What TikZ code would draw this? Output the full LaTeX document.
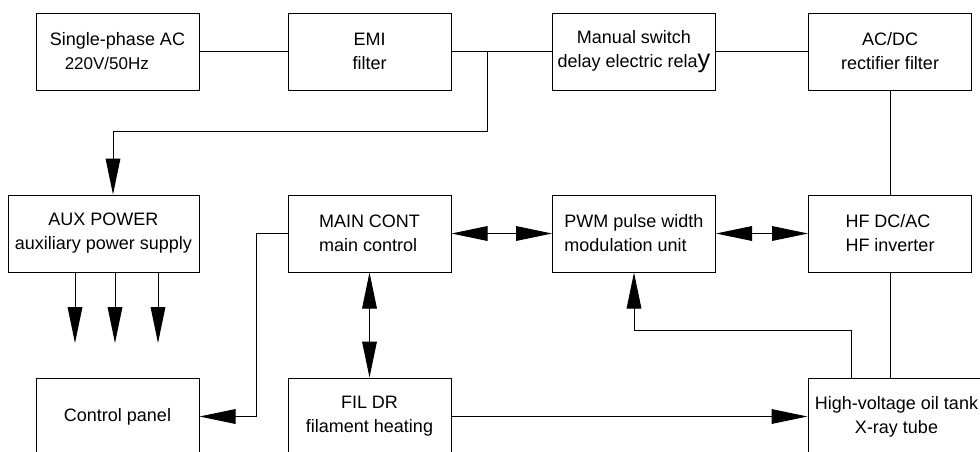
\documentclass[tikz,border=0pt]{standalone}
\usepackage{fontspec}
\setmainfont{Liberation Sans}
\usetikzlibrary{arrows.meta}

\tikzstyle{block}=[rectangle,draw=black,line width=0.75pt,align=center,inner sep=0pt,font=\fontsize{13.5}{18}\selectfont,minimum height=57.75pt,minimum width=122.25pt]
\tikzstyle{link}=[line width=0.75pt]

\begin{document}
\begin{tikzpicture}[x=0.75pt,y=-0.75pt,>={Triangle[length=27pt,width=11pt]}]
	\useasboundingbox (0,0) rectangle (980,451);
	\clip (0,0) rectangle (980,451);

	% top row
	\node[block] (ac) at (117.5,51.5) {Single-phase AC\\{\fontsize{12.75}{18}\selectfont 220V/50Hz}\hspace*{16pt}};
	\node[block] (emi) at (369.5,51.5) {EMI\\filter};
	\node[block] (relay) at (634,51.5) {Manual switch\\delay electric rela{\fontsize{19}{18}\selectfont y}};
	\node[block] (acdc) at (890,51.5) {AC/DC\\rectifier filter};

	% middle row
	\node[block,minimum width=143.25pt] (aux) at (103.5,233.5) {AUX POWER\\auxiliary power supply};
	\node[block,align=left] (main) at (369.5,233.5) {MAIN CONT\\main control};
	\node[block,align=left] (pwm) at (634,233.5) {PWM pulse width\\modulation unit};
	\node[block,align=left] (hf) at (890,233.5) {HF DC/AC\\HF inverter};

	% bottom row
	\node[block] (panel) at (117.5,416.5) {Control panel};
	\node[block] (fil) at (369.5,416.5) {FIL DR\\filament heating};
	\node[block,minimum width=132.75pt] (hv) at (896.5,416.5) {High-voltage oil tank\\X-ray tube};

	% power path
	\draw[link] (ac) -- (emi);
	\draw[link] (emi) -- (relay);
	\draw[link] (relay) -- (acdc);
	\draw[link] (acdc) -- (hf);
	\draw[link] (hf) -- (hf.south |- hv.north);

	% auxiliary supply
	\coordinate (split) at (487,51.5);
	\coordinate (bus) at (113,131);
	\draw[link] (split) |- (bus);
	\draw[link,->] (bus) -- (bus |- aux.north);
	\foreach \x [count=\i] in {75,115,158}
	{
		\coordinate (out\i) at (\x,343);
		\draw[link,->] (out\i |- aux.south) -- (out\i);
	}

	% control
	\draw[link,->] (main.west) -- ++(-31,0) |- (panel.east);
	\draw[link,<->] (main) -- (fil);
	\draw[link,<->] (main) -- (pwm);
	\draw[link,<->] (pwm) -- (hf);
	\draw[link,->] (fil) -- (hv);

	% feedback
	\coordinate (fb) at (851,330);
	\draw[link,->] (fb |- hv.north) -- (fb) -| (pwm.south);
\end{tikzpicture}
\end{document}
